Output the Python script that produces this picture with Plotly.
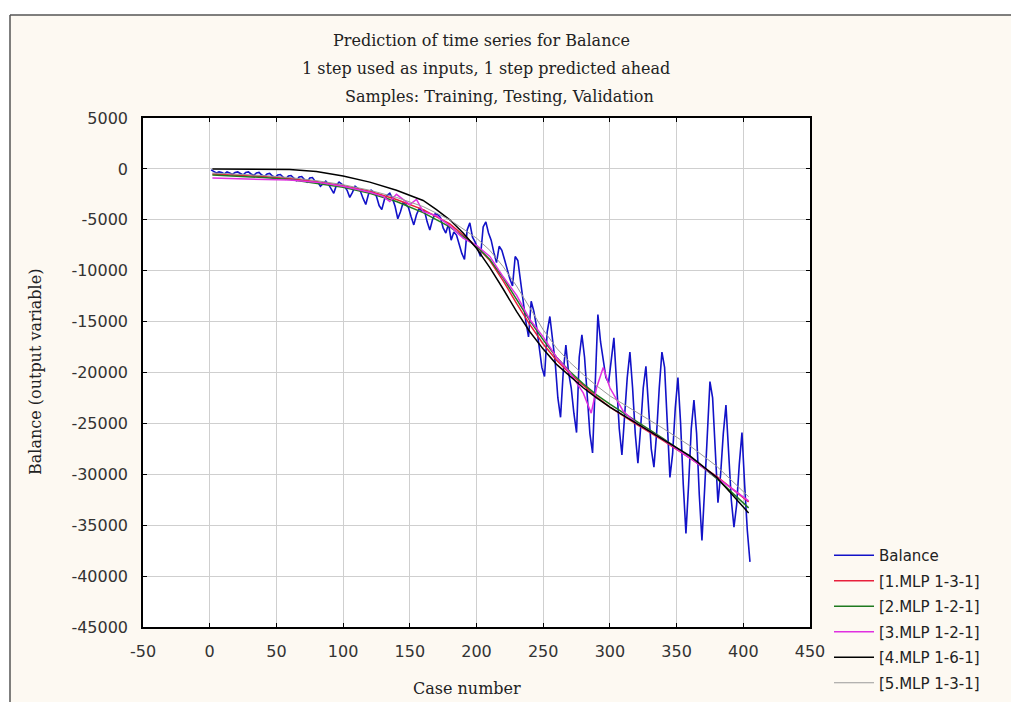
import plotly.graph_objects as go

# ---------------- data ----------------
case_balance = list(range(1, 406, 2))
balance = [
    -100, -250, -400, -300, -350, -500, -300, -400, -550, -350,
    -300, -450, -600, -350, -300, -500, -650, -400, -350, -600,
    -750, -500, -450, -700, -850, -600, -550, -800, -1000, -700,
    -650, -900, -1150, -800, -750, -1050, -1300, -900, -850, -1200,
    -1300, -1700, -1400, -1200, -1500, -1900, -2400, -1600, -1300, -1500,
    -1700, -2100, -2800, -2300, -1700, -1900, -2200, -2900, -3500, -2500,
    -2100, -2300, -2700, -3600, -4000, -3000, -2600, -2400, -2900, -3700,
    -4900, -4200, -3300, -3500, -3800, -4700, -5500, -4500, -3900, -4100,
    -4100, -5200, -6000, -5000, -4400, -4500, -4800, -5800, -6300, -5400,
    -7000, -6200, -6500, -7400, -8300, -8900, -6000, -5300, -6700, -7200,
    -8000, -8600, -5700, -5200, -6300, -7000, -8200, -9200, -7600, -8000,
    -8900, -10000, -10800, -11500, -8600, -9000, -11200, -13000, -15000, -16500,
    -13000, -14000, -15500, -17500, -19500, -20400, -16000, -14500, -16500, -19000,
    -22500, -24400, -20000, -17300, -20000, -21500, -24000, -25900, -18500, -16300,
    -18500, -22000, -26000, -27900, -20000, -14300, -17000, -19000, -20500, -21000,
    -18500, -16600, -21000, -25500, -28100, -24000, -20500, -18000, -21500, -26000,
    -28900, -25500, -21500, -19400, -23500, -27500, -29300, -26000, -21500, -18000,
    -19500, -25500, -30300, -28000, -23500, -20500, -25000, -31000, -35800, -31000,
    -25500, -22700, -26000, -32000, -36500, -31500, -25500, -20900, -22500, -28000,
    -32800, -30000, -26000, -23200, -27500, -32500, -35200, -33000, -29000, -25900,
    -31000, -35500, -38600,
]

case_model = [2, 20, 40, 60, 80, 100, 120, 140, 160, 180, 200, 210, 220, 230,
              240, 250, 260, 270, 280, 290, 300, 320, 340, 360, 380, 404]
mlp1 = [-500, -600, -750, -950, -1250, -1650, -2200, -3000, -4000, -5400,
        -7600, -9000, -11000, -13200, -15300, -17200, -18800, -20100, -21300,
        -22400, -23400, -25100, -26700, -28400, -30200, -32700]
mlp2 = [-600, -700, -850, -1050, -1400, -1800, -2400, -3200, -4300, -5700,
        -7600, -8900, -10700, -12800, -14900, -16800, -18500, -19900, -21100,
        -22200, -23100, -24800, -26500, -28300, -30400, -33300]
mlp5 = [-400, -500, -650, -850, -1150, -1550, -2100, -2800, -3700, -5000,
        -6800, -8000, -9600, -11500, -13700, -15800, -17600, -19000, -20200,
        -21300, -22300, -23900, -25500, -27200, -29200, -32200]

case_mlp3 = [2, 20, 40, 60, 80, 90, 100, 110, 120, 130, 135, 140, 145, 150, 155,
             160, 170, 180, 190, 200, 210, 220, 230, 240, 250, 260, 270, 280,
             286, 290, 295, 300, 310, 320, 340, 360, 380, 404]
mlp3 = [-900, -950, -1000, -1100, -1300, -1500, -1700, -2000, -2300, -2700,
        -3200, -2500, -3000, -3500, -3000, -4200, -4600, -5600, -6800, -7500,
        -8600, -10600, -12400, -14800, -16500, -18500, -20000, -22000, -24000,
        -21500, -19500, -21500, -23800, -25000, -26600, -28400, -30300, -32600]

case_mlp4 = [2, 20, 40, 60, 80, 100, 120, 140, 160, 170, 180, 190, 200, 210,
             220, 230, 240, 250, 260, 270, 280, 290, 300, 320, 340, 360, 380, 404]
mlp4 = [0, 0, 0, -50, -250, -700, -1300, -2100, -3100, -4000, -5000, -6300,
        -7800, -9700, -11800, -14000, -16000, -17700, -19200, -20400, -21500,
        -22500, -23400, -25000, -26600, -28200, -30300, -33800]

names = ["Balance", "[1.MLP 1-3-1]", "[2.MLP 1-2-1]", "[3.MLP 1-2-1]",
         "[4.MLP 1-6-1]", "[5.MLP 1-3-1]"]
title_lines = ["Prediction of time series for Balance",
               "1 step used as inputs, 1 step predicted ahead",
               "Samples: Training, Testing, Validation"]
x_ticks = list(range(-50, 451, 50))
x_labels = [str(v) for v in x_ticks]
y_ticks = list(range(-45000, 5001, 5000))
y_labels = [str(v) for v in y_ticks]

# ---------------- geometry (screen pixels) ----------------
OFF = 8                      # default page margin around the plot div
W, H = 1019 - OFF, 702 - OFF
L, R, T, B = 143, 810, 118, 627   # plot area, screen pixels


def px(xs):
    return (xs - L) / (R - L)


def py(ys):
    return (B - ys) / (B - T)


series = [
    (case_balance, balance, "#1212C8", 1.6),
    (case_model, mlp1, "#E8203C", 1.5),
    (case_model, mlp2, "#1F7A1F", 1.5),
    (case_mlp3, mlp3, "#E030E0", 1.5),
    (case_mlp4, mlp4, "#000000", 1.5),
    (case_model, mlp5, "#9A9A9A", 1.0),
]

fig = go.Figure()
for i, (xs, ys, col, w) in enumerate(series):
    fig.add_trace(go.Scatter(x=xs, y=ys, mode="lines", name=names[i],
                             legendgroup=f"g{i}",
                             line=dict(color=col, width=w)))

tick_font = dict(family="DejaVu Sans", size=16, color="#333333")
serif = dict(family="DejaVu Serif", size=16, color="#222222")

fig.update_layout(
    width=W, height=H,
    margin=dict(l=L - OFF, r=W - (R - OFF), t=T - OFF, b=H - (B - OFF), pad=0,
                autoexpand=False),
    paper_bgcolor="#FDF9F2",
    plot_bgcolor="#FFFFFF",
    showlegend=True,
    legend=dict(x=px(829), y=py(539), xanchor="left", yanchor="top",
                bgcolor="rgba(0,0,0,0)", borderwidth=0,
                font=dict(family="DejaVu Sans", size=15, color="#222222"),
                tracegroupgap=3, itemwidth=40),
    xaxis=dict(range=[-50, 450], tickvals=x_ticks, ticktext=x_labels,
               ticks="inside", ticklen=4, tickcolor="#000", showline=True,
               linecolor="#000", linewidth=1.5, mirror="ticks", showgrid=True,
               gridcolor="#CFCFCF", gridwidth=1, zeroline=False,
               tickfont=tick_font, ticklabelstandoff=9),
    yaxis=dict(range=[-45000, 5000], tickvals=y_ticks, ticktext=y_labels,
               ticks="inside", ticklen=4, tickcolor="#000", showline=True,
               linecolor="#000", linewidth=1.5, mirror="ticks", showgrid=True,
               gridcolor="#CFCFCF", gridwidth=1, zeroline=False,
               tickfont=tick_font, ticklabelstandoff=10),
)

annotations = []
for line, (cx, cy) in zip(title_lines, [(481, 40), (486, 68), (500, 96)]):
    annotations.append(dict(text=line, x=px(cx), y=py(cy), xref="paper",
                            yref="paper", showarrow=False, xanchor="center",
                            yanchor="middle", font=serif))
annotations.append(dict(text="Case number", x=px(467), y=py(688), xref="paper",
                        yref="paper", showarrow=False, xanchor="center",
                        yanchor="middle", font=serif))
annotations.append(dict(text="Balance (output variable)", x=px(35), y=py(372),
                        xref="paper", yref="paper", showarrow=False,
                        textangle=-90, xanchor="center", yanchor="middle",
                        font=serif))
fig.update_layout(annotations=annotations)

# white page strip above / left of the chart frame, and the frame edge
fig.add_shape(type="rect", xref="paper", yref="paper", x0=px(0), x1=px(1030),
              y0=py(15), y1=py(0), fillcolor="#FFFFFF", line_width=0, layer="above")
fig.add_shape(type="rect", xref="paper", yref="paper", x0=px(0), x1=px(10),
              y0=py(710), y1=py(0), fillcolor="#FFFFFF", line_width=0, layer="above")
fig.add_shape(type="line", xref="paper", yref="paper", x0=px(10), x1=px(1030),
              y0=py(15), y1=py(15), line=dict(color="#555555", width=1.5), layer="above")
fig.add_shape(type="line", xref="paper", yref="paper", x0=px(10), x1=px(10),
              y0=py(15), y1=py(710), line=dict(color="#555555", width=1.5), layer="above")

fig.write_html("out.html")
